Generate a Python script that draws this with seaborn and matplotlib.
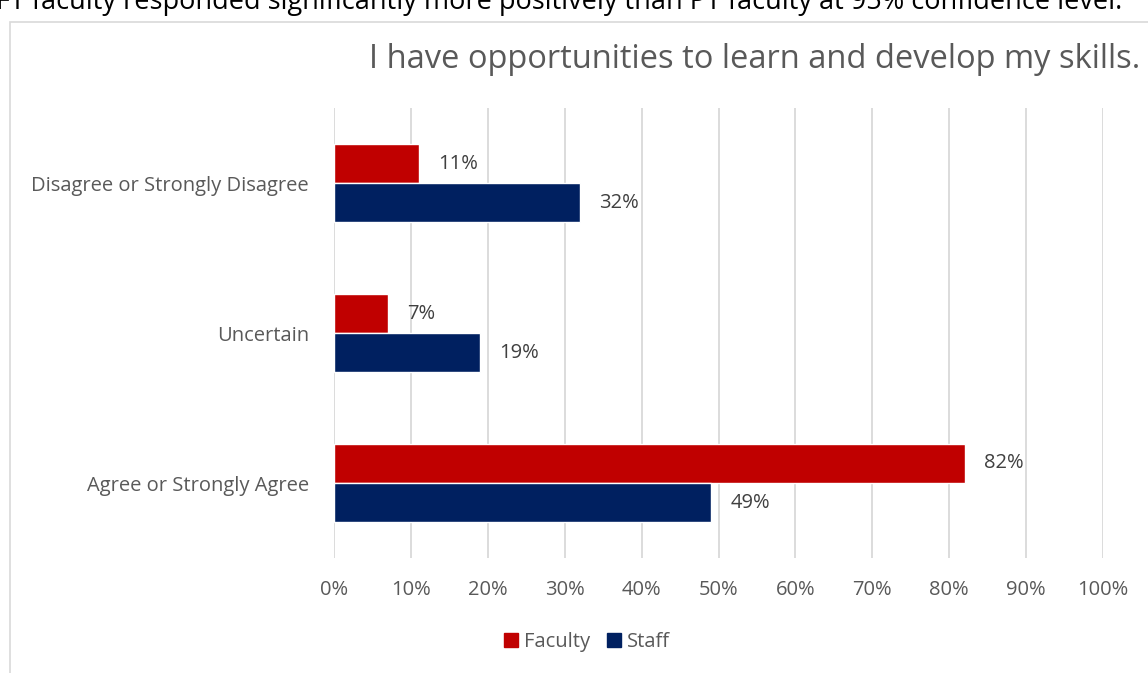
import numpy as np
import pandas as pd
import seaborn as sns
import matplotlib.pyplot as plt
from matplotlib.patches import Rectangle

# data
categories = ["Disagree or Strongly Disagree", "Uncertain", "Agree or Strongly Agree"]
groups = ["Faculty", "Staff"]
faculty_pct = [11, 7, 82]
staff_pct = [32, 19, 49]
xtick_labels = ["0%", "10%", "20%", "30%", "40%", "50%", "60%", "70%", "80%", "90%", "100%"]

title = "I have opportunities to learn and develop my skills."
header = "FT faculty responded significantly more positively than PT faculty at 95% confidence level."

RED = "#C00000"
NAVY = "#002060"
TXT = "#595959"

df = pd.DataFrame({
    "category": categories * 2,
    "group": [groups[0]] * 3 + [groups[1]] * 3,
    "value": faculty_pct + staff_pct,
})

sns.set_style("white")
plt.rcParams["font.family"] = ["Open Sans", "DejaVu Sans"]

fig = plt.figure(figsize=(11.48, 6.73), dpi=100)
ax = fig.add_axes([334 / 1148, 1 - 558 / 673, (1103 - 334) / 1148, (558 - 108) / 673])

sns.barplot(data=df, x="value", y="category", hue="group", order=categories,
            hue_order=groups, palette=[RED, NAVY], orient="h", width=0.52,
            saturation=1, ax=ax, legend=False)

ax.set_xlim(0, 100)
ax.set_ylim(2.5, -0.5)
ax.set_xticks(np.arange(0, 101, 10))
ax.set_xticklabels(xtick_labels, color=TXT, fontsize=14.5)
ax.tick_params(axis="y", length=0, pad=18, labelcolor=TXT, labelsize=14.5)
ax.tick_params(axis="x", length=0, pad=16)
ax.set_xlabel("")
ax.set_ylabel("")
ax.grid(axis="x", color="#D9D9D9", linewidth=1.3)
ax.set_axisbelow(True)
for s in ax.spines.values():
    s.set_visible(False)

for cont in ax.containers:
    ax.bar_label(cont, labels=[f"{int(v)}%" for v in cont.datavalues],
                 padding=14, color="#404040", fontsize=14.5)

# legend
handles = [Rectangle((0, 0), 1, 1, color=c) for c in [RED, NAVY]]
fig.legend(handles, groups, loc="center", bbox_to_anchor=(587 / 1148, 1 - 642 / 673),
           ncol=2, frameon=False, fontsize=14.5, labelcolor=TXT, handlelength=0.7,
           handleheight=0.7, handletextpad=0.3, columnspacing=0.8)

fig.text(1140 / 1148, 1 - 60 / 673, title, ha="right", va="center",
         fontsize=23.5, color=TXT)

# chart frame and clipped header text above it
fig.patches.append(Rectangle((10 / 1148, -0.1), 1.2, 1 - 22 / 673 + 0.1,
                             transform=fig.transFigure, fill=False,
                             edgecolor="#D9D9D9", linewidth=1.2))
fig.text(-4 / 1148, 1 - 9 / 673, header, ha="left", va="baseline",
         fontsize=19.5, color="black")

fig.savefig("out.png", dpi=100)
